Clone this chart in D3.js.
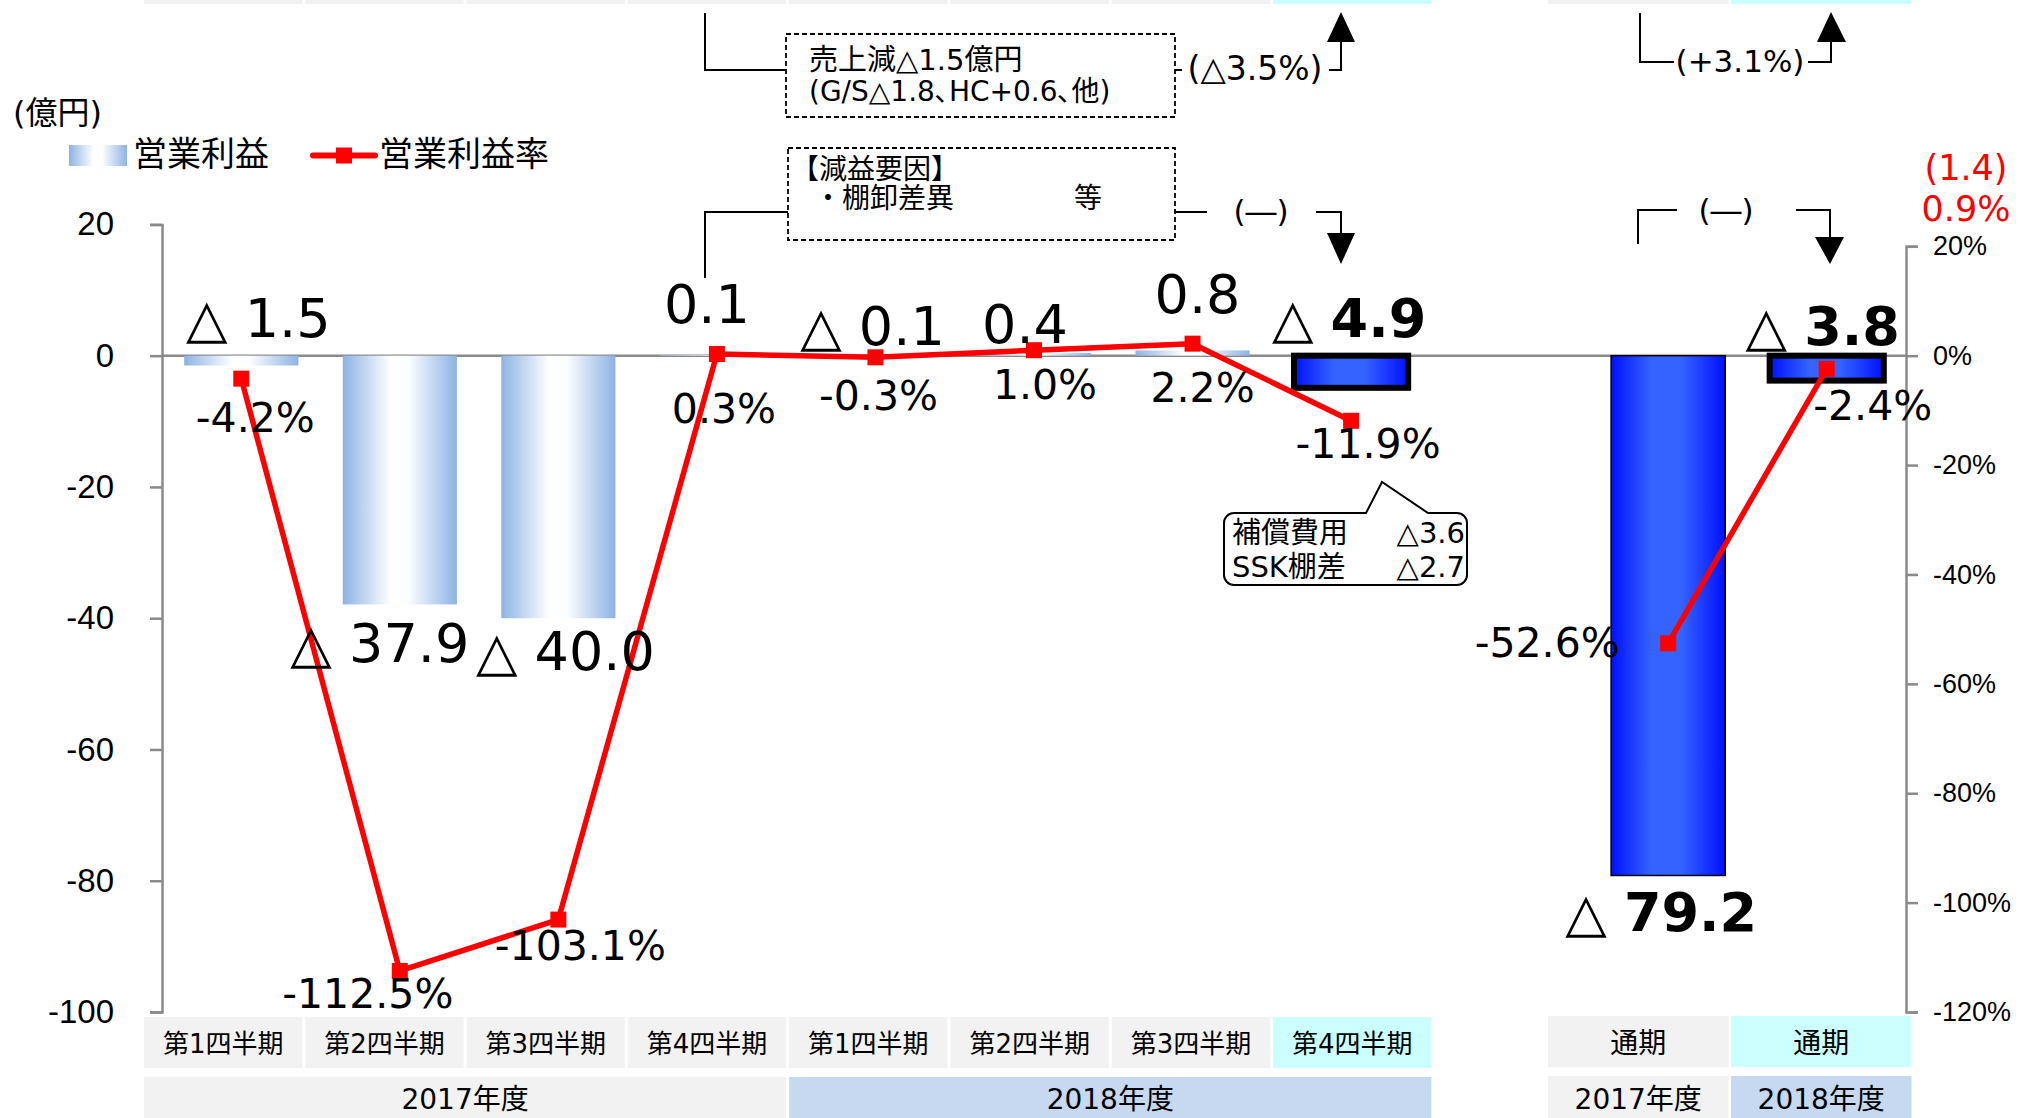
<!DOCTYPE html>
<html><head><meta charset="utf-8">
<script src="https://cdn.jsdelivr.net/npm/d3@7"></script>
<style>
html,body{margin:0;padding:0;background:#fff;}
svg{display:block;font-family:"DejaVu Sans","Noto Sans CJK JP",sans-serif;}
</style></head><body>
<svg id="chart" width="2020" height="1118"></svg>
<script>
// ---------- data ----------
const slots = ["2017Q1","2017Q2","2017Q3","2017Q4","2018Q1","2018Q2","2018Q3","2018Q4","gap","2017FY","2018FY"];
const quarterLabels = ["第1四半期","第2四半期","第3四半期","第4四半期","第1四半期","第2四半期","第3四半期","第4四半期"];
const annualLabels = ["通期","通期"];
const yearLabels = ["2017年度","2018年度"];
const operatingProfit = [-1.5,-37.9,-40.0,0.1,-0.1,0.4,0.8,-4.9,null,-79.2,-3.8];
const operatingMargin = [-4.2,-112.5,-103.1,0.3,-0.3,1.0,2.2,-11.9,null,-52.6,-2.4];
const leftTicks = [20,0,-20,-40,-60,-80,-100];
const rightTicks = [20,0,-20,-40,-60,-80,-100,-120];
const seriesNames = ["営業利益","営業利益率"];
const unitLabel = "(億円)";
const forecastLabels = ["(1.4)","0.9%"];
const box1Lines = ["売上減△1.5億円","(G/S△1.8､HC+0.6､他)"];
const box2Lines = ["【減益要因】","・棚卸差異"];
const box2Suffix = "等";
const calloutRows = [["補償費用","△3.6"],["SSK棚差","△2.7"]];
const changeQ4 = ["(△3.5%)","(―)"];
const changeFY = ["(+3.1%)","(―)"];

// ---------- layout ----------
const svg = d3.select("#chart");
const x = d3.scaleBand().domain(slots).range([162,1906]).paddingInner(0.28).paddingOuter(0.14);
const y = d3.scaleLinear().domain([-100,20]).range([1012,224.4]);
const yr = d3.scaleLinear().domain([-120,20]).range([1012,246.3]);
const cx = k => x(k) + x.bandwidth()/2;

const defs = svg.append("defs");
function grad(id, stops){
  const g = defs.append("linearGradient").attr("id",id).attr("x1","0").attr("x2","1").attr("y1","0").attr("y2","0");
  stops.forEach(s=>g.append("stop").attr("offset",s[0]).attr("stop-color",s[1]));
}
grad("gLight",[[0,"#8db3e2"],[0.42,"#ffffff"],[0.58,"#fbfdff"],[1,"#8db3e2"]]);
grad("gBlue",[[0,"#0010ff"],[0.35,"#3563ff"],[0.62,"#3563ff"],[1,"#0010ff"]]);

// top strip (bottom edge of a table above)
const cellStep = 161.3, cellW = 158.3, tableLeft = 144;
const fyLeft = 1548, fyW = 180.5, fyStep = 183;
quarterLabels.forEach((q,i)=>{
  svg.append("rect").attr("x",tableLeft+i*cellStep).attr("y",0).attr("width",cellW).attr("height",4)
    .attr("fill", i===7 ? "#ccffff" : "#f2f2f2");
});
annualLabels.forEach((q,i)=>{
  svg.append("rect").attr("x",fyLeft+i*fyStep).attr("y",0).attr("width",fyW).attr("height",4)
    .attr("fill", i===1 ? "#ccffff" : "#f2f2f2");
});

// axes
const gl = svg.append("g").attr("transform","translate(162,0)")
  .call(d3.axisLeft(y).tickValues(leftTicks).tickSize(12).tickPadding(36).tickFormat(d=>String(d)));
const gr = svg.append("g").attr("transform","translate(1906,0)")
  .call(d3.axisRight(yr).tickValues(rightTicks).tickSize(12).tickPadding(15).tickFormat(d=>d+"%"));
[gl,gr].forEach(g=>{
  g.selectAll("path,line").attr("stroke","#8a8a8a").attr("stroke-width",2.5);
});
gl.selectAll("text").attr("font-size",33).attr("fill","#000").attr("font-family",null);
gr.selectAll("text").attr("font-size",27).attr("fill","#000").attr("font-family",null);

// zero line
svg.append("line").attr("x1",162).attr("x2",1906).attr("y1",y(0)).attr("y2",y(0))
  .attr("stroke","#8a8a8a").attr("stroke-width",2.5);

// bars
const data = slots.map((k,i)=>({k, i, v:operatingProfit[i], m:operatingMargin[i]}));
function barKind(k){ return (k==="2018Q4"||k==="2018FY") ? "thick" : (k==="2017FY" ? "blue" : "light"); }
svg.append("g").selectAll("rect").data(data.filter(d=>d.v!==null)).join("rect")
  .attr("x",d=>x(d.k)).attr("width",x.bandwidth())
  .attr("y",d=>y(Math.max(0,d.v))).attr("height",d=>Math.abs(y(d.v)-y(0)))
  .attr("fill",d=>barKind(d.k)==="light" ? "url(#gLight)" : "url(#gBlue)")
  .attr("stroke",d=>barKind(d.k)==="light" ? "none" : "#000")
  .attr("stroke-width",d=>barKind(d.k)==="thick" ? 6 : 1.5);

// line
const line = d3.line().defined(d=>d.m!==null).x(d=>cx(d.k)).y(d=>yr(d.m));
svg.append("path").datum(data).attr("d",line).attr("fill","none").attr("stroke","#ff0000").attr("stroke-width",5.5)
  .attr("stroke-linejoin","round");
svg.append("g").selectAll("rect").data(data.filter(d=>d.m!==null)).join("rect")
  .attr("x",d=>cx(d.k)-8).attr("y",d=>yr(d.m)-8).attr("width",16).attr("height",16).attr("fill","#ff0000");

// bar value labels
const barNudge = {"2017Q1":[17,-19],"2017Q2":[-20,58],"2017Q3":[7,52],"2017Q4":[-10,-32],"2018Q1":[-3,-11],
  "2018Q2":[-9,-10],"2018Q3":[5,-37],"2018Q4":[-2,-19],"2017FY":[-7,56],"2018FY":[-4,-11]};
data.filter(d=>d.v!==null).forEach(d=>{
  const anchor = d.v < -10 ? y(d.v) : y(Math.max(d.v,0));
  const n = barNudge[d.k];
  const bold = barKind(d.k)!=="light";
  const t = svg.append("text").attr("x",cx(d.k)+n[0]).attr("y",anchor+n[1]).attr("text-anchor","middle")
    .attr("font-size",54).attr("fill","#000");
  if(d.v<0){
    t.append("tspan").text("△ ");
    t.append("tspan").attr("font-weight",bold?"bold":null).text(Math.abs(d.v).toFixed(1));
  } else {
    t.append("tspan").attr("font-weight",bold?"bold":null).text(d.v.toFixed(1));
  }
});

// margin labels
const pctNudge = {"2017Q1":[14,53],"2017Q2":[-32,37],"2017Q3":[22,40],"2017Q4":[7,69],"2018Q1":[3,53],
  "2018Q2":[11,49],"2018Q3":[10,58],"2018Q4":[17,37],"2017FY":[-121,14],"2018FY":[46,51]};
data.filter(d=>d.m!==null).forEach(d=>{
  const n = pctNudge[d.k];
  svg.append("text").attr("x",cx(d.k)+n[0]).attr("y",yr(d.m)+n[1]).attr("text-anchor","middle")
    .attr("font-size",41).attr("fill","#000").text(d.m.toFixed(1)+"%");
});

// legend
svg.append("text").attr("x",13).attr("y",124).attr("font-size",32).text(unitLabel);
svg.append("rect").attr("x",69).attr("y",145).attr("width",58).attr("height",21).attr("fill","url(#gLight)");
svg.append("text").attr("x",133).attr("y",166).attr("font-size",34).text(seriesNames[0]);
svg.append("line").attr("x1",313).attr("x2",375).attr("y1",155.5).attr("y2",155.5).attr("stroke","#ff0000").attr("stroke-width",6).attr("stroke-linecap","round");
svg.append("rect").attr("x",336).attr("y",147.5).attr("width",16).attr("height",16).attr("fill","#ff0000");
svg.append("text").attr("x",379).attr("y",166).attr("font-size",34).text(seriesNames[1]);

// forecast (red)
svg.append("text").attr("x",1966).attr("y",180).attr("text-anchor","middle").attr("font-size",35).attr("fill","#ff0000").text(forecastLabels[0]);
svg.append("text").attr("x",1966).attr("y",221).attr("text-anchor","middle").attr("font-size",35).attr("fill","#ff0000").text(forecastLabels[1]);

// annotation boxes
const ann = svg.append("g");
ann.append("rect").attr("x",786).attr("y",34).attr("width",389).attr("height",83).attr("fill","#fff")
  .attr("stroke","#000").attr("stroke-width",1.8).attr("stroke-dasharray","5,3");
ann.append("text").attr("x",809).attr("y",70).attr("font-size",29).text(box1Lines[0]);
ann.append("text").attr("x",809).attr("y",101).attr("font-size",28).text(box1Lines[1]);
ann.append("rect").attr("x",788).attr("y",148).attr("width",387).attr("height",92).attr("fill","#fff")
  .attr("stroke","#000").attr("stroke-width",1.8).attr("stroke-dasharray","5,3");
ann.append("text").attr("x",791).attr("y",179).attr("font-size",28).text(box2Lines[0]);
ann.append("text").attr("x",814).attr("y",208).attr("font-size",28).text(box2Lines[1]);
ann.append("text").attr("x",1074).attr("y",208).attr("font-size",28).text(box2Suffix);

const strokeBlack = sel => sel.attr("fill","none").attr("stroke","#000").attr("stroke-width",2);
strokeBlack(ann.append("path").attr("d","M705,13V70H786"));
strokeBlack(ann.append("path").attr("d","M1175,70H1182"));
strokeBlack(ann.append("path").attr("d","M1329,70H1341V40"));
ann.append("path").attr("d","M1327,42L1355,42L1341,12Z").attr("fill","#000");
ann.append("text").attr("x",1255).attr("y",80).attr("text-anchor","middle").attr("font-size",33).text(changeQ4[0]);

strokeBlack(ann.append("path").attr("d","M788,212H705V278"));
strokeBlack(ann.append("path").attr("d","M1175,212H1207"));
strokeBlack(ann.append("path").attr("d","M1316,212H1341V235"));
ann.append("path").attr("d","M1327,233L1355,233L1341,264Z").attr("fill","#000");
ann.append("text").attr("x",1261).attr("y",222).attr("text-anchor","middle").attr("font-size",31).text(changeQ4[1]);

strokeBlack(ann.append("path").attr("d","M1640,13V62H1674"));
strokeBlack(ann.append("path").attr("d","M1808,62H1831V40"));
ann.append("path").attr("d","M1817,42L1846,42L1831,12Z").attr("fill","#000");
ann.append("text").attr("x",1740).attr("y",72).attr("text-anchor","middle").attr("font-size",31).text(changeFY[0]);

strokeBlack(ann.append("path").attr("d","M1638,244V210H1677"));
strokeBlack(ann.append("path").attr("d","M1796,210H1830V239"));
ann.append("path").attr("d","M1815,237L1844,237L1830,264Z").attr("fill","#000");
ann.append("text").attr("x",1726).attr("y",221).attr("text-anchor","middle").attr("font-size",31).text(changeFY[1]);

// callout bubble
ann.append("path").attr("d","M1234,513H1366L1382,482L1428,513H1457A10,10 0 0 1 1467,523V575A10,10 0 0 1 1457,585H1234A10,10 0 0 1 1224,575V523A10,10 0 0 1 1234,513Z")
  .attr("fill","#fff").attr("stroke","#000").attr("stroke-width",2);
calloutRows.forEach((r,i)=>{
  ann.append("text").attr("x",1232).attr("y",543+i*34).attr("font-size",29).text(r[0]);
  ann.append("text").attr("x",1465).attr("y",543+i*34).attr("text-anchor","end").attr("font-size",29).text(r[1]);
});

// category table
const tbl = svg.append("g");
quarterLabels.forEach((q,i)=>{
  const x0 = tableLeft+i*cellStep;
  tbl.append("rect").attr("x",x0).attr("y",1017).attr("width",cellW).attr("height",51).attr("fill", i===7 ? "#ccffff" : "#f2f2f2");
  tbl.append("text").attr("x",x0+cellW/2).attr("y",1044).attr("dominant-baseline","central").attr("text-anchor","middle").attr("font-size",26).text(q);
});
yearLabels.forEach((yl,i)=>{
  const x0 = tableLeft+i*4*cellStep;
  const w = 4*cellStep-3;
  tbl.append("rect").attr("x",x0).attr("y",1077).attr("width",w).attr("height",50).attr("fill", i===1 ? "#c6d9f1" : "#f2f2f2");
  tbl.append("text").attr("x",x0+w/2).attr("y",1099).attr("dominant-baseline","central").attr("text-anchor","middle").attr("font-size",28).text(yl);
});
annualLabels.forEach((q,i)=>{
  const x0 = fyLeft+i*fyStep;
  tbl.append("rect").attr("x",x0).attr("y",1016).attr("width",fyW).attr("height",51).attr("fill", i===1 ? "#ccffff" : "#f2f2f2");
  tbl.append("text").attr("x",x0+fyW/2).attr("y",1043).attr("dominant-baseline","central").attr("text-anchor","middle").attr("font-size",28).text(q);
  tbl.append("rect").attr("x",x0).attr("y",1076).attr("width",fyW).attr("height",50).attr("fill", i===1 ? "#c6d9f1" : "#f2f2f2");
  tbl.append("text").attr("x",x0+fyW/2).attr("y",1099).attr("dominant-baseline","central").attr("text-anchor","middle").attr("font-size",28).text(yearLabels[i]);
});
</script>
</body></html>
